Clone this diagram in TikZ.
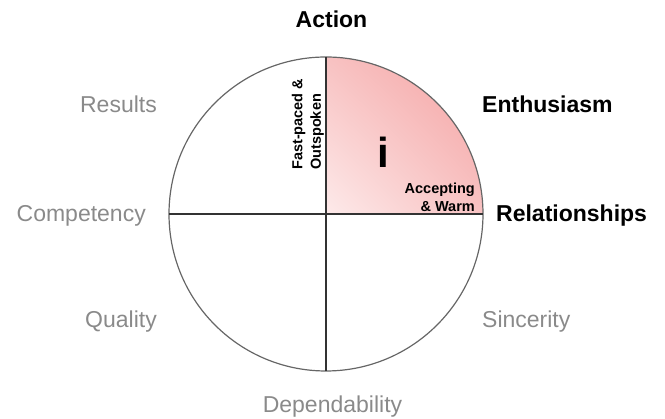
\documentclass[tikz,border=0pt]{standalone}
\usepackage{fontspec}
\setmainfont{Liberation Sans}
\usetikzlibrary{shadings}
\definecolor{dimgrey}{HTML}{8A8A8A}
\definecolor{rimgrey}{HTML}{666666}
\definecolor{warmpink}{HTML}{F4A0A0}
\definecolor{midpink}{HTML}{F8C2C2}
\definecolor{palepink}{HTML}{FDEAEA}
\begin{document}
\begin{tikzpicture}[x=1pt, y=1pt,
  trait/.style={inner sep=0pt, font=\fontsize{23}{26}\selectfont\bfseries},
  other/.style={inner sep=0pt, text=dimgrey, font=\fontsize{23}{26}\selectfont},
  tag/.style={inner sep=0pt, font=\fontsize{14.5}{18.5}\selectfont\bfseries}]
\useasboundingbox (0,0) rectangle (665,419);
\coordinate (C) at (326,205);
\coordinate (N) at (326,362);
\coordinate (S) at (326,48);
\coordinate (W) at (169,205);
\coordinate (E) at (483,205);
\shade[lower left=palepink, upper right=warmpink, upper left=midpink, lower right=midpink] (C) -- (E) arc[start angle=0, end angle=90, radius=157] -- cycle;
\draw[rimgrey, line width=1.2pt] (C) circle[radius=157];
\draw[black!80, line width=1.1pt] (N) -- (S);
\draw[black!80, line width=1.1pt] (W) -- (E);
\node (action) at (331.5,391) [trait, anchor=base] {Action};
\node (enth) at (482,306) [trait, anchor=base west] {Enthusiasm};
\node (rel) at (496,197) [trait, anchor=base west] {Relationships};
\node (results) at (157,306) [other, anchor=base east] {Results};
\node (comp) at (146,197) [other, anchor=base east] {Competency};
\node (quality) at (157,91) [other, anchor=base east] {Quality};
\node (sinc) at (482,91) [other, anchor=base west] {Sincerity};
\node (dep) at (332.5,6) [other, anchor=base] {Dependability};
\node (style) at (383,251) [inner sep=0pt, anchor=base, font=\fontsize{42}{46}\selectfont\bfseries] {i};
\node (warm) at (475,207) [tag, align=right, anchor=south east] {Accepting\\ \& Warm};
\node (pace) at (324,249) [tag, align=left, rotate=90, anchor=south west] {Fast-paced \&\\ Outspoken};
\end{tikzpicture}
\end{document}
